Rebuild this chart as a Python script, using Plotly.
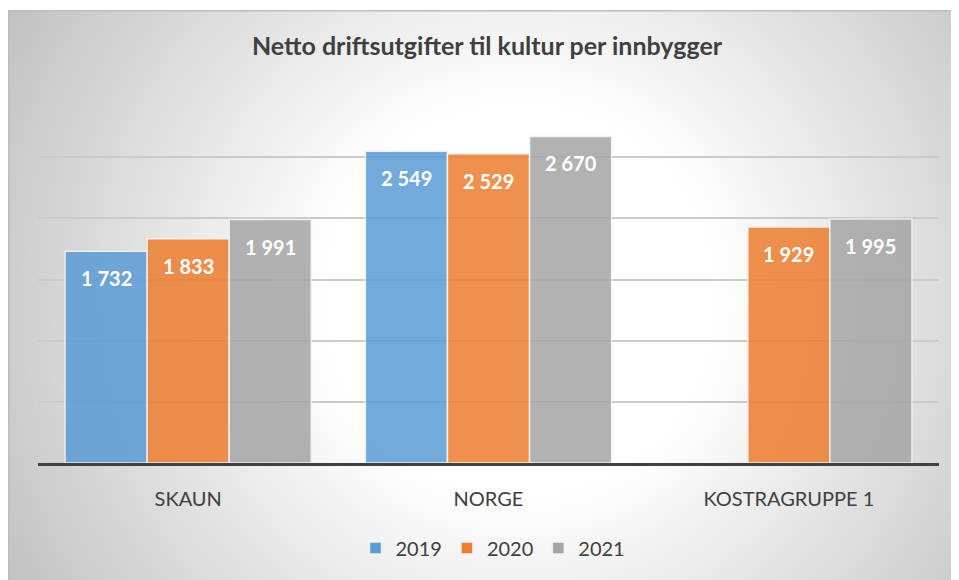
import base64
import plotly.graph_objects as go

# data
categories = ["SKAUN", "NORGE", "KOSTRAGRUPPE 1"]
years = ["2019", "2020", "2021"]
values_2019 = [1732, 2549, None]
values_2020 = [1833, 2529, 1929]
values_2021 = [1991, 2670, 1995]
series = [values_2019, values_2020, values_2021]
colors = ["#5b9bd5", "#ed7d31", "#a5a5a5"]

# the page body adds an 8px margin; the figure is shifted by it and simply
# runs past the window on the right and bottom
BODY = 8
W, H = 959, 580
M = dict(l=38 - BODY, r=20 + BODY, t=96 - BODY, b=117 + BODY)
PW = W - M["l"] - M["r"]
PH = H - M["t"] - M["b"]

FONT = "Lato, 'Open Sans', sans-serif"
BARGAP = 0.18


def fmt(v):
    return f"{v:,}".replace(",", " ")


def background_uri(fw, fh):
    # Excel style radial gradient behind the whole chart area
    svg = f"""<svg xmlns='http://www.w3.org/2000/svg' width='{fw}' height='{fh}' viewBox='0 0 {fw} {fh}' preserveAspectRatio='none'>
<defs><radialGradient id='g' gradientUnits='userSpaceOnUse' cx='512' cy='290' r='590'>
<stop offset='0' stop-color='#ffffff'/><stop offset='0.33' stop-color='#ffffff'/>
<stop offset='1' stop-color='#c1c1c1'/></radialGradient></defs>
<rect x='0' y='0' width='{fw}' height='{fh}' fill='url(#g)'/>
<path d='M0.75,{fh} V0.75 H{fw}' fill='none' stroke='#bdbdbd' stroke-width='1.5'/>
</svg>"""
    return "data:image/svg+xml;base64," + base64.b64encode(svg.encode()).decode()


fig = go.Figure()
for name, vals, col in zip(years, series, colors):
    fig.add_trace(go.Bar(
        x=categories, y=vals, name=name,
        marker=dict(color=col, opacity=0.85, line=dict(color="#f0f0f0", width=1.5)),
        hoverinfo="skip",
    ))

# data labels, inside end of each bar
bw = (1 - BARGAP) / len(series)
annotations = []
for k, vals in enumerate(series):
    off = (k - 1) * bw
    for i, v in enumerate(vals):
        if v is None:
            continue
        annotations.append(dict(
            x=i + off, y=v, xref="x", yref="y", text=fmt(v), showarrow=False,
            yshift=-27, yanchor="middle",
            font=dict(family=FONT, size=20, color="white", weight="bold"),
        ))

# frame of the chart area, in page pixels: left 8, top 10, runs off right/bottom
fx0, fy0 = 8 - BODY, 10 - BODY
fw, fh = W - fx0, H - fy0

fig.update_layout(
    width=W, height=H, margin=M,
    paper_bgcolor="white", plot_bgcolor="rgba(0,0,0,0)",
    barmode="group", bargap=BARGAP, bargroupgap=0,
    title=dict(text="<b>Netto driftsutgifter til kultur per innbygger</b>",
               x=(487 - BODY) / W, xanchor="center", y=1 - (46 - BODY) / H, yanchor="middle",
               font=dict(family=FONT, size=25, color="#404040")),
    font=dict(family=FONT, color="#404040"),
    xaxis=dict(showline=True, linecolor="#404040", linewidth=3, ticks="",
               tickfont=dict(size=20, color="#404040"), ticklabelstandoff=16,
               showgrid=False),
    yaxis=dict(range=[0, 3001], dtick=500, showticklabels=False, showgrid=True,
               gridcolor="#cacaca", gridwidth=1.5, zeroline=False, showline=False),
    legend=dict(orientation="h", x=(493 - 38) / PW, xanchor="center",
                y=-(548 - 463) / PH, yanchor="middle",
                font=dict(size=20, color="#404040"), bgcolor="rgba(0,0,0,0)",
                traceorder="normal"),
    annotations=annotations,
    images=[dict(source=background_uri(fw, fh), xref="paper", yref="paper",
                 x=(fx0 - M["l"]) / PW, y=(H - M["b"] - fy0) / PH,
                 sizex=fw / PW, sizey=fh / PH,
                 xanchor="left", yanchor="top", sizing="stretch", layer="below")],
    showlegend=True,
)

fig.write_html("out.html")
